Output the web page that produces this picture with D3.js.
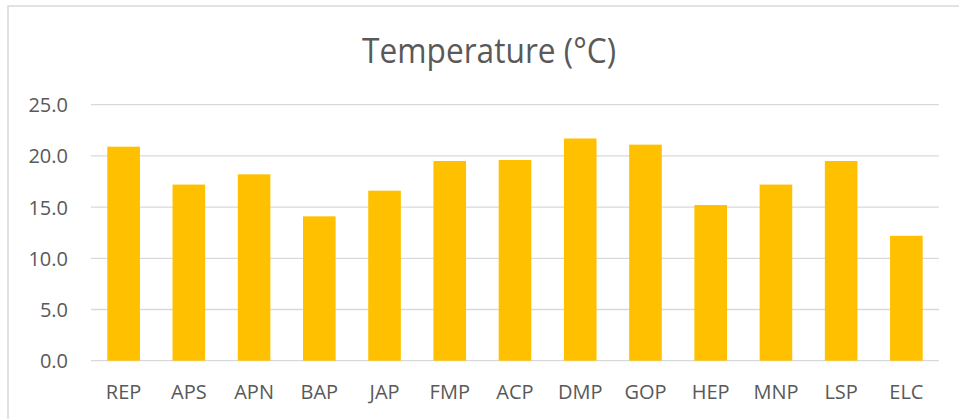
<!DOCTYPE html>
<html><head><meta charset="utf-8">
<script src="https://cdn.jsdelivr.net/npm/d3@7"></script>
<style>body{margin:0;background:#fff;}svg{display:block;font-family:"Open Sans",sans-serif;}</style>
</head><body>
<svg id="c" width="959" height="419"></svg>
<script>
const categories = ["REP","APS","APN","BAP","JAP","FMP","ACP","DMP","GOP","HEP","MNP","LSP","ELC"];
const temperatures = [20.9,17.2,18.2,14.1,16.6,19.5,19.6,21.7,21.1,15.2,17.2,19.5,12.2];
const yTicks = [0,5,10,15,20,25];
const title = "Temperature (°C)";

const svg = d3.select("#c");
svg.append("rect").attr("x",8).attr("y",6).attr("width",960).attr("height",420)
  .attr("fill","#fff").attr("stroke","#d9d9d9").attr("stroke-width",1.5);

const m = {left:91, right:939, top:104.7, bottom:360.7};
const x = d3.scaleBand().domain(categories).range([m.left,m.right]).paddingInner(0.5).paddingOuter(0.25);
const y = d3.scaleLinear().domain([0,25]).range([m.bottom,m.top]);

const grid = svg.append("g");
grid.selectAll("line").data(yTicks).join("line")
  .attr("x1",m.left).attr("x2",m.right)
  .attr("y1",d=>y(d)).attr("y2",d=>y(d))
  .attr("stroke","#d9d9d9").attr("stroke-width",1.3);

svg.append("g").selectAll("rect").data(temperatures).join("rect")
  .attr("x",(d,i)=>x(categories[i]))
  .attr("width",x.bandwidth())
  .attr("y",d=>y(d))
  .attr("height",d=>y(0)-y(d))
  .attr("fill","#ffc000");

const yAxis = d3.axisLeft(y).tickValues(yTicks).tickFormat(d3.format(".1f")).tickSize(0).tickPadding(0);
const ya = svg.append("g").attr("transform",`translate(${68},0)`).call(yAxis);
ya.select(".domain").remove();
ya.selectAll("text").attr("fill","#595959").style("font-size","20px").style("font-family","'Open Sans',sans-serif").attr("dy","0.35em");

const xAxis = d3.axisBottom(x).tickSize(0).tickPadding(0);
const xa = svg.append("g").attr("transform",`translate(0,${399})`).call(xAxis);
xa.select(".domain").remove();
xa.selectAll("text").attr("fill","#595959").style("font-size","20px").style("font-family","'Open Sans',sans-serif").attr("dy","0");

svg.append("text").attr("x",489).attr("y",63.3).attr("text-anchor","middle")
  .attr("fill","#595959").style("font-size","34px").text(title)
  .attr("textLength",254).attr("lengthAdjust","spacingAndGlyphs");
</script>
</body></html>
